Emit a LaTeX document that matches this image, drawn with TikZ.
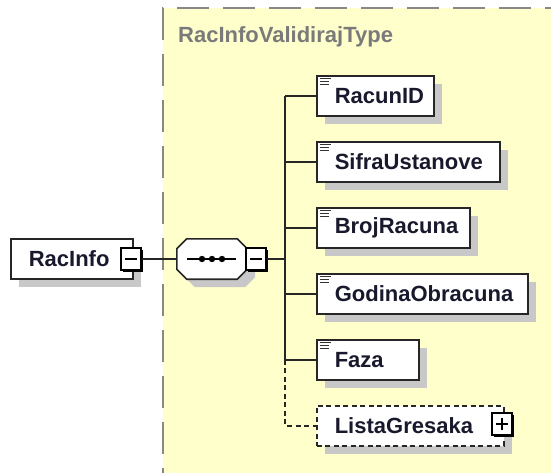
\documentclass[tikz,border=0pt]{standalone}
\usepackage{fontspec}
\setmainfont{Liberation Sans}
\usetikzlibrary{shadows}
\definecolor{bgyellow}{RGB}{255,255,204}
\definecolor{shadowgray}{RGB}{200,200,200}
\definecolor{framegray}{RGB}{136,136,136}
\definecolor{titlegray}{RGB}{122,122,122}
\definecolor{inktext}{RGB}{25,25,45}
\begin{document}
\begin{tikzpicture}[x=1pt,y=-1pt,
  conn/.style={line width=1.6pt, draw=black!85},
  boxshadow/.style={drop shadow={shadow xshift=8pt, shadow yshift=-8pt, fill=shadowgray, opacity=1}},
  elem/.style={draw=black!85, line width=1.6pt, fill=white, boxshadow,
    font=\bfseries\fontsize{22}{25}\selectfont, text=inktext,
    inner sep=0pt, minimum height=40pt, anchor=north west, align=left},
  pmbox/.style={draw=black, line width=1.4pt, fill=white, inner sep=0pt,
    minimum width=20pt, minimum height=22pt,
    drop shadow={shadow xshift=2pt, shadow yshift=-2pt, fill=black, opacity=1}},
  seqline/.style={draw=black!85, line width=1.6pt, fill=white, boxshadow},
  sign/.style={line width=1.4pt, draw=black},
  icon/.style={line width=1.3pt, draw=black!80},
]
\useasboundingbox (0,0) rectangle (551,473);
\clip (0,0) rectangle (551,473);

% type container
\fill[bgyellow] (163,8) rectangle (600,500);
\draw[framegray, line width=1.6pt, dash pattern=on 32pt off 14pt] (163,500) -- (163,8) -- (600,8);
\node[anchor=base west, inner sep=0pt, font=\bfseries\fontsize{22}{25}\selectfont, text=titlegray] (title) at (178,43) {RacInfoValidirajType};

% root element
\node[elem, text width=122pt] (racinfo) at (10,238) {\hspace*{18pt}RacInfo};
\node[pmbox] (m1) at (131,259) {};
\draw[sign] ([xshift=-6pt]m1.center) -- ([xshift=6pt]m1.center);

% sequence compositor
\node[minimum width=70pt, minimum height=40pt, inner sep=0pt] (seq) at (212,259) {};
\path[seqline] ([xshift=10pt]seq.north west) -- ([xshift=-10pt]seq.north east)
  -- ([yshift=-10pt]seq.north east) -- ([yshift=10pt]seq.south east)
  -- ([xshift=-10pt]seq.south east) -- ([xshift=10pt]seq.south west)
  -- ([yshift=10pt]seq.south west) -- ([yshift=-10pt]seq.north west) -- cycle;
\draw[line width=1.4pt] ([xshift=-25pt]seq.center) -- ([xshift=24pt]seq.center);
\foreach \dx in {-10,0,10} \fill ([xshift=\dx pt]seq.center) circle (3.2pt);
\node[pmbox] (m2) at (256,259) {};
\draw[sign] ([xshift=-6pt]m2.center) -- ([xshift=6pt]m2.center);

\draw[conn] (m1.east) -- (seq.west);
\coordinate (bus) at (285,259);
\draw[conn] (m2.east) -- (bus);

% child elements
\node[elem, text width=117pt] (racunid) at (316,75) {\hspace*{18pt}RacunID};
\node[elem, text width=183pt] (sifra) at (316,141) {\hspace*{18pt}SifraUstanove};
\node[elem, text width=153pt] (broj) at (316,207) {\hspace*{18pt}BrojRacuna};
\node[elem, text width=211pt] (godina) at (316,273) {\hspace*{18pt}GodinaObracuna};
\node[elem, text width=102pt] (faza) at (316,339) {\hspace*{18pt}Faza};
\node[elem, text width=187pt, dash pattern=on 5pt off 3.5pt] (lista) at (316,405) {\hspace*{18pt}ListaGresaka};
\node[pmbox] (p1) at (502,424) {};
\draw[sign] ([xshift=-6pt]p1.center) -- ([xshift=6pt]p1.center);
\draw[sign] ([yshift=-6pt]p1.center) -- ([yshift=6pt]p1.center);

% text-content icons
\foreach \n in {racunid,sifra,broj,godina,faza} {
  \draw[icon] ([shift={(3.5,3.5)}]\n.north west) -- ++(11,0);
  \draw[icon] ([shift={(3.5,6.5)}]\n.north west) -- ++(9,0);
  \draw[icon] ([shift={(3.5,9.5)}]\n.north west) -- ++(9,0);
}

% connectors
\draw[conn] (racunid.west -| bus) -- (faza.west -| bus);
\foreach \n in {racunid,sifra,broj,godina,faza}
  \draw[conn] (\n.west -| bus) -- (\n.west);
\draw[conn, dash pattern=on 5pt off 3.5pt] (faza.west -| bus) |- (lista.west);
\end{tikzpicture}
\end{document}
